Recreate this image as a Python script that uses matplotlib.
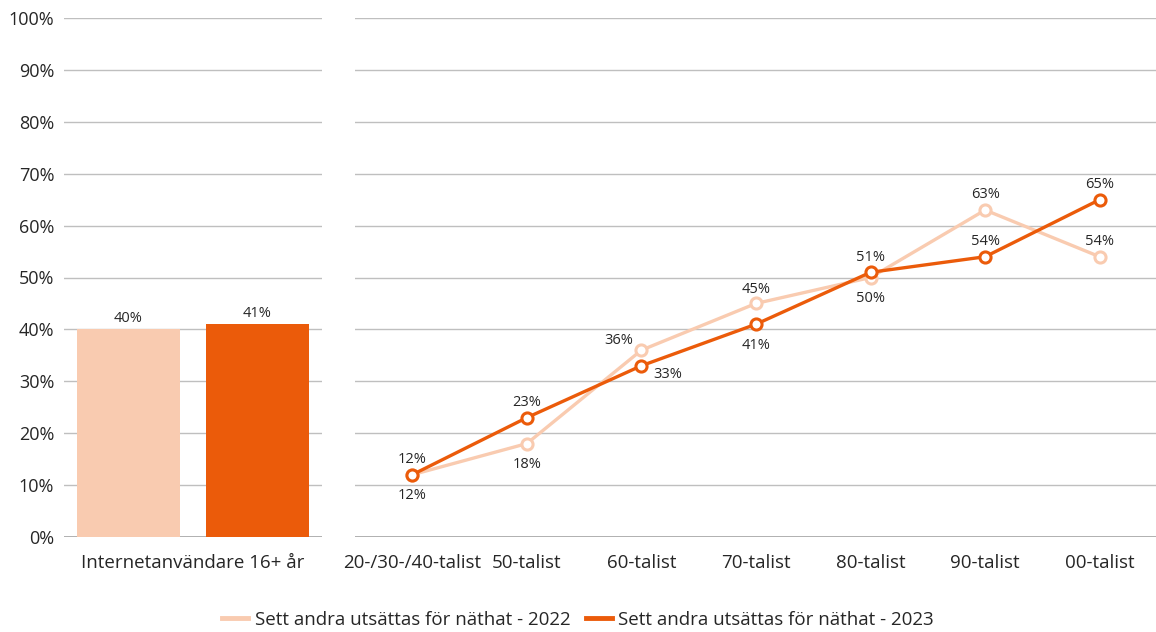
import matplotlib.pyplot as plt
from matplotlib.lines import Line2D

plt.rcParams['font.family'] = ['Open Sans', 'DejaVu Sans']

# data
bar_labels = ["2022", "2023"]
bar_values = [40, 41]
bar_category = "Internetanvändare 16+ år"

generations = ["20-/30-/40-talist", "50-talist", "60-talist", "70-talist",
               "80-talist", "90-talist", "00-talist"]
sett_2022 = [12, 18, 36, 45, 50, 63, 54]
sett_2023 = [12, 23, 33, 41, 51, 54, 65]
series_names = ["Sett andra utsättas för näthat - 2022",
                "Sett andra utsättas för näthat - 2023"]

# label offsets (points) for each data label
off_2022 = [(0, -15), (0, -15), (-16, 7), (0, 10), (0, -15), (0, 11), (0, 11)]
off_2023 = [(0, 11), (0, 11), (19, -6), (0, -15), (0, 11), (0, 11), (0, 11)]

c_light = "#F9CBB0"
c_dark = "#EB5B0A"
grid_c = "#BFBFBF"
txt_c = "#262626"

fig = plt.figure(figsize=(11.56, 6.32), dpi=100)
bottom = (632 - 537) / 632
height = (537 - 18) / 632
ax1 = fig.add_axes([64 / 1156, bottom, 258 / 1156, height])
ax2 = fig.add_axes([355 / 1156, bottom, 802 / 1156, height])

for ax in (ax1, ax2):
    ax.set_ylim(0, 100)
    ax.set_yticks(range(0, 101, 10))
    ax.grid(axis="y", color=grid_c, linewidth=1)
    ax.set_axisbelow(True)
    for s in ax.spines.values():
        s.set_visible(False)
    ax.axhline(0, color="#A6A6A6", linewidth=1.2, zorder=1)
    ax.tick_params(length=0, labelsize=13, colors=txt_c)
    ax.tick_params(axis="x", pad=12, labelsize=13.5)
    ax.tick_params(axis="y", pad=7)

ax1.set_yticklabels(["%d%%" % v for v in range(0, 101, 10)])
ax2.set_yticklabels([])

# bars
xb = [0, 1]
ax1.bar(xb, bar_values, width=0.8, color=[c_light, c_dark], zorder=2)
for x, v in zip(xb, bar_values):
    ax1.text(x, v + 0.6, "%d%%" % v, ha="center", va="bottom", fontsize=10.5, color=txt_c)
ax1.set_xlim(-0.5, 1.5)
ax1.set_xticks([0.5])
ax1.set_xticklabels([bar_category])

# lines
xs = range(len(generations))
ax2.plot(xs, sett_2022, color=c_light, linewidth=2.4, marker="o", markersize=8,
         markerfacecolor="white", markeredgewidth=2.2, zorder=3)
ax2.plot(xs, sett_2023, color=c_dark, linewidth=2.4, marker="o", markersize=8,
         markerfacecolor="white", markeredgewidth=2.2, zorder=4)
for i in xs:
    ax2.annotate("%d%%" % sett_2022[i], (i, sett_2022[i]), textcoords="offset points",
                 xytext=off_2022[i], ha="center", va="center", fontsize=10.5, color=txt_c)
    ax2.annotate("%d%%" % sett_2023[i], (i, sett_2023[i]), textcoords="offset points",
                 xytext=off_2023[i], ha="center", va="center", fontsize=10.5, color=txt_c)
ax2.set_xlim(-0.5, len(generations) - 0.5)
ax2.set_xticks(list(xs))
ax2.set_xticklabels(generations)

handles = [Line2D([], [], color=c_light, linewidth=3.5),
           Line2D([], [], color=c_dark, linewidth=3.5)]
fig.legend(handles, series_names, loc="center", bbox_to_anchor=(0.5, 12 / 632), ncol=2,
           frameon=False, fontsize=13.5, handlelength=1.4, handletextpad=0.35,
           columnspacing=0.8, labelcolor=txt_c)

fig.savefig("out.png", dpi=100)
